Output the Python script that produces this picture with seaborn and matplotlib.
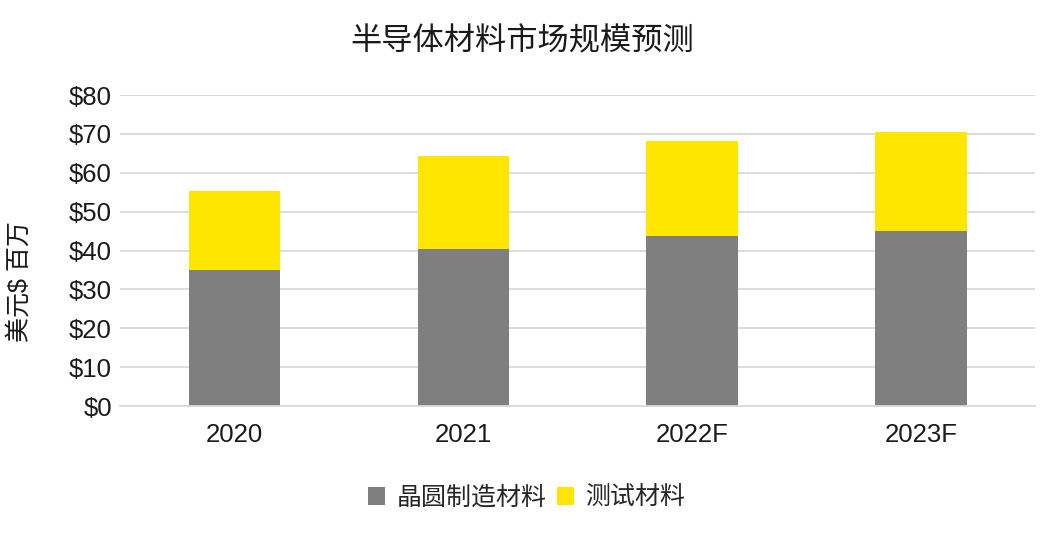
import matplotlib
matplotlib.use("Agg")
import matplotlib.pyplot as plt
import seaborn as sns
import pandas as pd
from matplotlib.patches import Patch

categories = ["2020", "2021", "2022F", "2023F"]
wafer = [35.0, 40.4, 43.8, 45.1]
testing = [20.4, 23.8, 24.5, 25.4]
yticks = [0, 10, 20, 30, 40, 50, 60, 70, 80]
title = "半导体材料市场规模预测"
ylabel = "美元$ 百万"
series_names = ["晶圆制造材料", "测试材料"]

sns.set_theme(style="white")
plt.rcParams['font.family'] = ['Liberation Sans', 'Noto Sans CJK SC', 'DejaVu Sans']

GRAY = "#7f7f7f"
YELLOW = "#ffe600"

totals = [w + t for w, t in zip(wafer, testing)]
df = pd.DataFrame({"cat": categories, "wafer": wafer, "total": totals})

fig = plt.figure(figsize=(10.64, 5.4), dpi=100)
ax = fig.add_axes([0.113, 0.248, 0.86, 0.576])

sns.barplot(data=df, x="cat", y="total", color=YELLOW, width=0.4, ax=ax,
            saturation=1, edgecolor="none")
sns.barplot(data=df, x="cat", y="wafer", color=GRAY, width=0.4, ax=ax,
            saturation=1, edgecolor="none")

ax.set_ylim(0, 80)
ax.set_xlim(-0.5, 3.5)
ax.set_yticks(yticks)
ax.set_yticklabels([f"${v}" for v in yticks])
ax.yaxis.grid(True, color="#d9d9d9", linewidth=1.3)
ax.set_axisbelow(True)
for s in ["top", "right", "left"]:
    ax.spines[s].set_visible(False)
ax.spines["bottom"].set_color("#d9d9d9")
ax.spines["bottom"].set_linewidth(1.3)
ax.tick_params(axis="both", length=0, labelsize=18.5, colors="#1a1a1a", pad=6)
ax.tick_params(axis="x", pad=12)
ax.set_xlabel("")
ax.set_ylabel(ylabel, fontsize=18, color="#1a1a1a")
ax.yaxis.set_label_coords(-0.097, 0.40)

fig.text(0.491, 0.922, title, ha="center", va="center", fontsize=22.5, color="#1a1a1a")

handles = [Patch(facecolor=GRAY, edgecolor="none"), Patch(facecolor=YELLOW, edgecolor="none")]
fig.legend(handles, series_names, loc="center", bbox_to_anchor=(0.495, 0.078), ncol=2,
           frameon=False, fontsize=18, handlelength=0.7, handleheight=0.7,
           handletextpad=0.45, columnspacing=0.4)

fig.savefig("out.png", dpi=100)
